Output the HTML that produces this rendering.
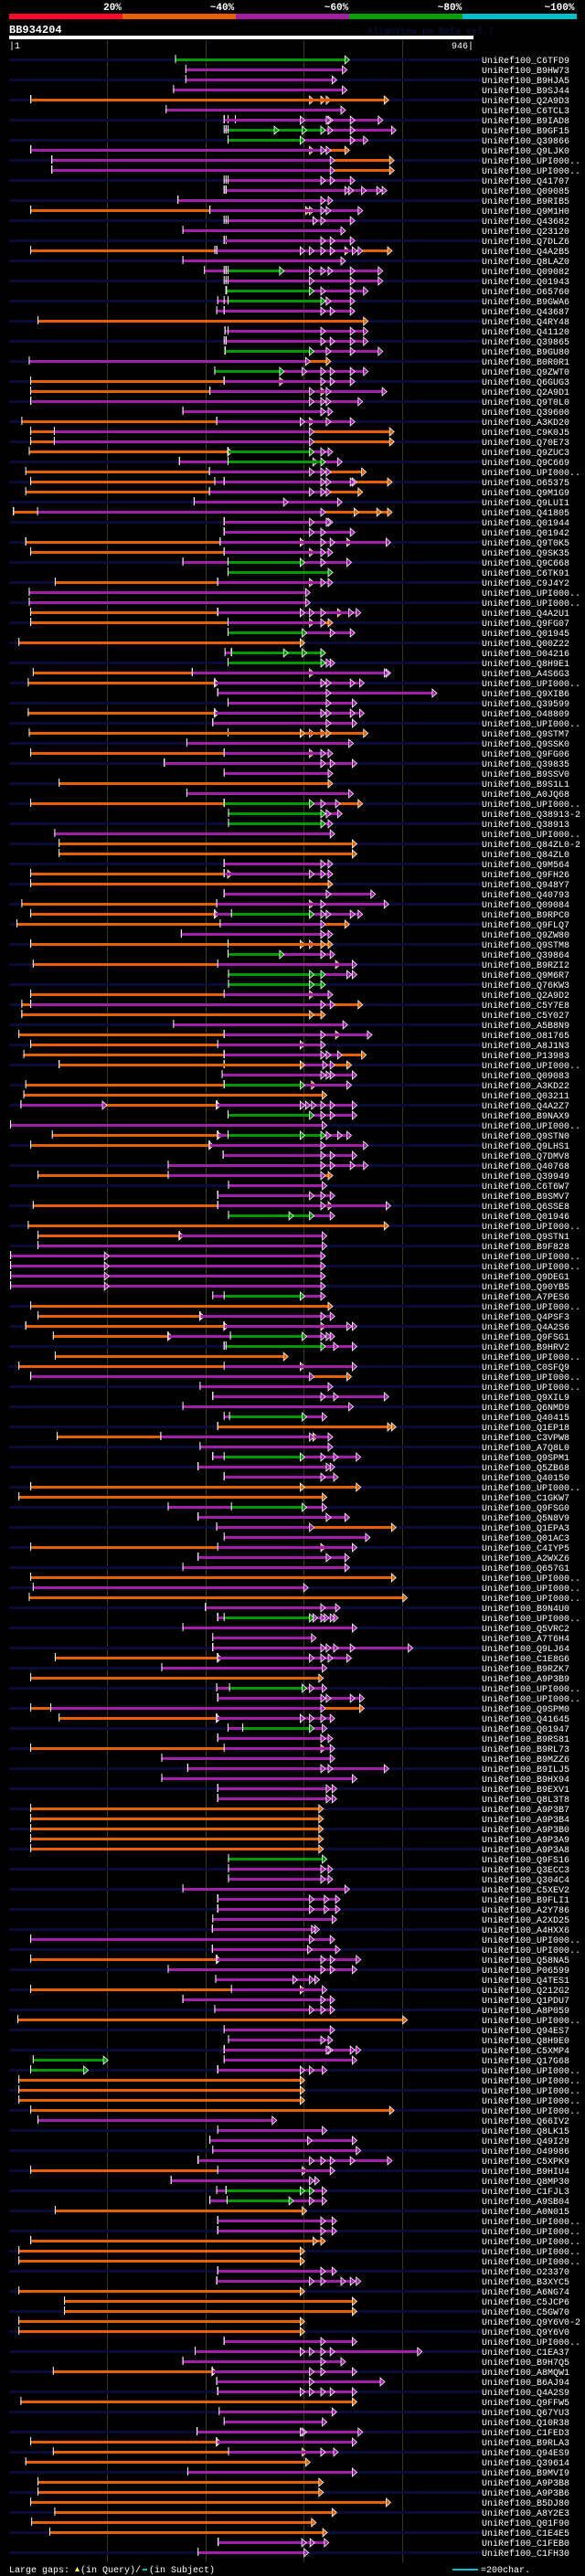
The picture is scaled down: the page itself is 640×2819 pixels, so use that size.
<!DOCTYPE html>
<html><head><meta charset="utf-8"><style>
html,body{margin:0;padding:0;background:#000;}
svg{display:block;}
text{font-family:"Liberation Mono",monospace;}
</style></head><body>
<svg id="chart" width="640" height="2819" viewBox="0 0 640 2819" xmlns="http://www.w3.org/2000/svg">
<rect x="0" y="0" width="640" height="2819" fill="#000"/>
<g>
<rect x="10" y="15" width="124" height="6" fill="#ff0a28"/>
<rect x="134" y="15" width="124" height="6" fill="#e86000"/>
<rect x="258" y="15" width="124" height="6" fill="#a020a0"/>
<rect x="382" y="15" width="124" height="6" fill="#00a000"/>
<rect x="506" y="15" width="125" height="6" fill="#00c0c8"/>
<text x="123" y="11" fill="#fff" font-size="11" font-weight="bold" text-anchor="middle">20%</text>
<text x="243" y="11" fill="#fff" font-size="11" font-weight="bold" text-anchor="middle">~40%</text>
<text x="368" y="11" fill="#fff" font-size="11" font-weight="bold" text-anchor="middle">~60%</text>
<text x="492" y="11" fill="#fff" font-size="11" font-weight="bold" text-anchor="middle">~80%</text>
<text x="612" y="11" fill="#fff" font-size="11" font-weight="bold" text-anchor="middle">~100%</text>
</g>
<text x="10" y="36" fill="#fff" font-size="12" font-weight="bold">BB934204</text>
<text x="402" y="37" fill="#14144a" font-size="10">AlignView.pm Beta rel.7</text>
<rect x="10" y="39" width="508" height="4" fill="#fff"/>
<text x="10" y="53" fill="#fff" font-size="10">|1</text>
<text x="518" y="53" fill="#fff" font-size="10" text-anchor="end">946|</text>
<g id="guides"></g>
<g id="rows"></g>
<g>
<text x="10" y="2815" fill="#fff" font-size="10">Large gaps:</text>
<path d="M82 2814 L84.5 2809 L87 2814 Z" fill="#ffff80"/>
<text x="88" y="2815" fill="#fff" font-size="10">(in Query)/</text>
<rect x="156" y="2811" width="5" height="2" fill="#00c0c8"/>
<text x="163" y="2815" fill="#fff" font-size="10">(in Subject)</text>
<rect x="495" y="2811" width="28" height="2" fill="#00c0c8"/>
<text x="526" y="2815" fill="#fff" font-size="10">=200char.</text>
</g>
</svg>
<script>
const queryLength = 946;
const guideTicks = [200, 400, 600, 800];
const colorMap = {o:"#e66000", p:"#a020a8", g:"#009a00"};
const rowLabels = ["C6TFD9","B9HW73","B9HJA5","B9SJ44","Q2A9D3","C6TCL3","B9IAD8","B9GF15","Q39866","Q9LJK0","UPI000..","UPI000..","Q41707","Q09085","B9RIB5","Q9M1H0","Q43682","Q23120","Q7DLZ6","Q4A2B5","Q8LAZ0","Q09082","Q01943","O65760","B9GWA6","Q43687","Q4RY48",
"Q41120","Q39865","B9GU80","B0R0R1","Q9ZWT0","Q6GUG3","Q2A9D1","Q9T0L0","Q39600","A3KD20","C9K0J5","Q70E73","Q9ZUC3","Q9C669","UPI000..","O65375","Q9M1G9","Q9LUI1","Q41805","Q01944","Q01942","Q9T0K5","Q9SK35","Q9C668","C6TK91","C9J4Y2","UPI000..",
"UPI000..","Q4A2U1","Q9FG07","Q01945","Q00Z22","O04216","Q8H9E1","A4S6G3","UPI000..","Q9XIB6","Q39599","O48809","UPI000..","Q9STM7","Q9SSK0","Q9FG06","Q39835","B9SSV0","B9S1L1","A0JQ68","UPI000..","Q38913-2","Q38913","UPI000..","Q84ZL0-2","Q84ZL0","Q9M564",
"Q9FH26","Q948Y7","Q40793","Q09084","B9RPC0","Q9FLQ7","Q9ZW80","Q9STM8","Q39864","B9RZI2","Q9M6R7","Q76KW3","Q2A9D2","C5Y7E8","C5Y027","A5B8N9","O81765","A8J1N3","P13983","UPI000..","Q09083","A3KD22","Q03211","Q4A2Z7","B9NAX9","UPI000..","Q9STN0","Q9LHS1",
"Q7DMV8","Q40768","Q39949","C6T6W7","B9SMV7","Q6SSE8","Q01946","UPI000..","Q9STN1","B9F828","UPI000..","UPI000..","Q9DEG1","Q90YB5","A7PES6","UPI000..","Q4PSF3","Q4A2S6","Q9FSG1","B9HRV2","UPI000..","C0SFQ9","UPI000..","UPI000..","Q9XIL9","Q6NMD9","Q40415",
"Q1EP18","C3VPW8","A7Q8L0","Q9SPM1","Q5ZB68","Q40150","UPI000..","C1GKW7","Q9FSG0","Q5N8V9","Q1EPA3","Q01AC3","C4IYP5","A2WXZ6","Q657G1","UPI000..","UPI000..","UPI000..","B9N4U0","UPI000..","Q5VRC2","A7T6H4","Q9LJ64","C1E8G6","B9RZK7","A9P3B9","UPI000..",
"UPI000..","Q9SPM0","Q41645","Q01947","B9RS81","B9RL73","B9MZZ6","B9ILJ5","B9HX94","B9EXV1","Q8L3T8","A9P3B7","A9P3B4","A9P3B0","A9P3A9","A9P3A8","Q9FS16","Q3ECC3","Q304C4","C5XEV2","B9FLI1","A2Y786","A2XD25","A4HXX6","UPI000..","UPI000..","Q58NA5","P06599",
"Q4TES1","Q212G2","Q1PDU7","A8P059","UPI000..","Q94ES7","Q8H9E0","C5XMP4","Q17G68","UPI000..","UPI000..","UPI000..","UPI000..","UPI000..","Q66IV2","Q8LK15","Q49I29","O49986","C5XPK9","B9HIU4","Q8MP30","C1FJL3","A9SB04","A0N015","UPI000..","UPI000..","UPI000..",
"UPI000..","UPI000..","O23370","B3XYC5","A6NG74","C5JCP6","C5GW70","Q9Y6V0-2","Q9Y6V0","UPI000..","C1EA37","B9H7Q5","A8MQW1","B6AJ94","Q4A2S9","Q9FFW5","Q67YU3","Q10R38","C1FED3","B9RLA3","Q94ES9","Q39614","B9MVI9","A9P3B8","A9P3B6","B5DJ80","A8Y2E3",
"Q01F90","C1E4E5","C1FEB0","C1FH30"];
const rowHsps = [
"g338-684","p359-679","p359-658","p334-679","o43-612 o43-635 o43-646 o43-764","p319-676",
"p437-752 p437-695 p460-650 p445-646 p437-593","p437-779 p441-695 p441-650 g445-635 g445-597 g445-540","p445-722 p445-695 g445-593",
"o43-684 o43-612 p43-646 p43-635","o86-775 p86-654","o86-775 p86-654","p437-695 p441-654 p445-635",
"p437-760 p437-749 p441-718 p441-692 p441-684","p343-650 p343-635","o43-604 o43-612 p408-711 p408-646 p408-635",
"p437-695 p441-635 p445-619","p353-676","p437-695 p441-654 p437-635",
"o43-771 o418-684 p418-711 p422-699 p422-654 p422-635 p422-612 p422-593","p353-676",
"p397-752 p437-695 p441-650 p441-635 p441-612 g445-551","p437-752 p441-695 p445-612","p441-722 p441-695 p441-635 g442-612",
"p424-695 p437-646 g445-635","p422-695 p437-654 p437-635","o58-722",
"p439-722 p439-695 p445-635","p437-722 p441-695 p441-654 p441-635","p439-752 p439-695 p439-646 g439-612","o40-646 p40-604",
"p418-722 p418-695 p418-654 p418-635 p418-597 g418-551","o43-551 p437-695 p437-654 p437-635","o43-635 p408-760 p408-646 p408-612",
"p43-711 p43-646 p43-635 p43-612","p353-650 p353-635","o25-612 p422-695 p422-646 p422-593","o43-775 p91-612","o43-775 p91-612",
"p40-650 p40-635 o40-445 g445-612","p346-669 p346-619 g445-635","o33-718 p407-646 p407-635 p407-612","o43-771 p418-699 p418-695 p437-646 p437-635",
"o33-711 p407-646 p407-635 p407-612","p376-669 p376-559","o8-771 o8-749 o8-703 p57-635","p437-650 p437-646 p437-612","p437-695 p437-635 p437-612",
"o33-593 o33-688 p429-768 p429-654 p429-635","o43-612 p437-650 p437-635","p353-688 p353-635 g445-593","g445-650","o93-612 p424-650 p424-635","p40-604",
"p40-604","o43-669 p424-707 p424-692 p424-635 p424-612 p424-593","o43-650 o43-612 p445-635","p445-695 p445-654 g445-597","o19-593",
"p439-635 g452-635 g452-597 g452-559","p445-654 p445-646 g445-635","o48-612 p372-768 p372-764","o38-418 p418-714 p418-695 p418-646 p418-635",
"p424-862 p424-646","p445-699 p445-646","o38-418 p418-714 p418-695 p418-646 p418-635","p414-699 p414-646","o40-722 p445-612 o445-635 o445-646 o40-593",
"p361-692","o43-612 p437-650 p437-635","p315-699 p315-654 p315-635","p437-650","o101-650","p361-692","o43-711 p437-665 p437-635 g437-612",
"p446-669 p446-646 g446-635","p446-650 g446-635","p92-654","o101-699","o101-699","p437-650 p437-635",
"o43-445 p437-650 p437-635 p437-612","o43-650","p437-737 p437-646","o25-612 p422-764 p422-635","o43-418 p418-711 p418-695 p418-646 p418-635 g452-612",
"o15-684 p429-635","p350-650 p350-635","o43-650 p445-612 o43-593 o445-635","p445-654 p445-635 g445-551","o48-665 p424-699","p446-699 p446-688 g446-635 g446-612",
"g446-635 g446-612","o43-612 p437-650","o25-711 p43-654 p43-635","o25-635 o25-612","p334-680","o19-665 p437-730 p437-635","o43-593 p424-635",
"o29-718 p437-669 p437-646 p437-635","o101-688 p437-654 p437-639 o101-593","p433-699 p433-654 p433-646 p433-635","o33-616 p437-688 g437-593","o29-638",
"o23-422 p23-190 p422-699 p422-654 p422-635 p422-616 p422-604 p422-593","p445-699 p445-654 p445-635 g445-612","p2-638",
"o87-424 p424-688 p424-669 p424-646 g445-635 g445-593","o43-407 p407-722 p407-635",
"p435-699 p435-654 p435-635","p323-722 p323-695 p323-654 p323-635","o58-650 p323-635","p446-638","p424-654 p424-635 p424-612","o48-650 p424-768 p424-635",
"p446-654 g446-612 g446-570","o38-764","o58-346 p346-638","p58-638","p2-635 p2-194","p2-635 p2-194","p2-635 p2-194","p2-635 p2-194","p414-635 g437-593","o43-650",
"o58-388 p388-654 p388-635","o33-437 o33-635 p437-699 p437-688","o89-323 p323-654 p323-646 p323-635 g450-597","p437-699 p437-661 g441-635","o93-559",
"o19-593 p437-699","o43-688 p43-612","p388-650","p414-764 p414-661 p414-635","p353-692","p437-638 g448-597",
"o424-779 o424-771","o97-619 p308-650 p308-612","p388-650","p414-707 p414-661 p414-635 g437-593","p384-654 p384-646","p437-661 p437-635","o43-707 o43-593","o19-638",
"p323-638 g452-597","p384-684 p384-646","o422-779 p422-612","p437-726","o43-635 p424-699","p384-684 p384-646","p353-684","o43-779","p48-600","o40-802",
"p399-665 p399-635","p424-661 p424-654 p424-642 p424-635 p424-619 g437-612","p353-699","p414-616","p414-813 p414-695 p414-661 p414-646 p414-635",
"o93-424 p424-688 p424-650 p424-635 p424-612","p310-638","o43-631","p422-638 p422-612 g448-597",
"p424-714 p424-695 p424-646 p424-635","o43-714 p84-635","o101-422 p422-654 p422-635 p422-612 p422-593","p445-638 g475-612","p424-650 p424-635","o43-635 p437-654",
"p310-654","p363-764 p363-650 p363-635","p310-699","p424-658 p424-646","p424-658 p424-646","o43-631","o43-631","o43-631","o43-631","o43-631","g446-638",
"p446-650 p446-635","p446-650 p446-635","p353-684","p424-665 p424-642 p424-612","p424-665 p424-642 p424-612","p414-658","p413-623 p413-616","p43-654 p43-612",
"p413-665 p413-608","o43-422 p422-707 p422-654 p422-635","p323-699 p323-654 p323-635",
"p420-623 p420-612 p420-578","o43-593 p452-638","p353-654 p353-635","p418-654 p418-635 p418-612","o17-802","p437-654","p446-650 p446-635",
"p437-707 p437-695 p437-650 p437-646","g48-192 p437-699","g43-152 p424-638 p424-612 p424-593","o19-593","o19-593","o19-593","o43-775","p58-536","p424-638",
"p408-699 p408-608","p414-707","p384-771 p384-695 p384-654 p384-635 p384-612","o43-597 p424-654","p329-623 p329-612","p422-638 g441-612 g441-593",
"p408-638 p408-612 g443-570","o93-597","p424-658 p424-635","p424-658 p424-635","o43-635 o43-619",
"o19-593","o19-593","p424-658 p424-635","p422-707 p422-695 p422-676 p422-635 p422-612","o19-593","o112-699","o112-699","o19-593","o19-593",
"p437-699 p437-635","p378-832 p378-654 p378-635 p378-612 p378-593","p353-676 p353-635","o89-413 p413-699 p413-635 p413-612","p422-756 p422-612",
"p424-699 p424-654 p424-635 p424-612 p424-593","o23-699","p427-658","p437-638","p382-711 p382-597 p382-593","o43-422 p422-699","o89-597 p446-661 p446-635",
"o33-604","p363-699","o58-631","o58-631","o43-768","o92-658",
"o45-616","o82-639","p425-642 p425-613 p425-596","p384-601"];
</script>
<script>
const NS = "http://www.w3.org/2000/svg";
const plotLeft = 10, plotRight = 518, firstRowY = 65, rowStep = 11;
function xScale(aa){ return plotLeft + aa * (plotRight - plotLeft) / queryLength; }
function yRow(i){ return firstRowY + i * rowStep; }
function mk(tag, attrs){ const e = document.createElementNS(NS, tag); for (const k in attrs) e.setAttribute(k, attrs[k]); return e; }
const guidesG = document.getElementById('guides');
guideTicks.forEach(t => {
  const l = mk('rect', {x: Math.round(xScale(t)), y: 44, width: 1, height: 2760, fill: '#3a3a12'});
  
  
  guidesG.appendChild(l);
});
const rowsG = document.getElementById('rows');
rowLabels.forEach((lab, i) => {
  const y = yRow(i);
  const g = mk('g', {});
  
  
  if (i % 2 === 0) {
    const tr = mk('rect', {x: 10, y: y - 1, width: 517, height: 3, fill: '#0b0b38'});
    
    
    g.appendChild(tr);
  }
  const specs = (rowHsps[i] || '').split(' ').filter(Boolean).map(s => {
    const m = s.match(/^([opg])(\d+)-(\d+)$/);
    return {c: m[1], s: +m[2], e: +m[3]};
  });
  specs.forEach(h => {
    const x1 = xScale(h.s), x2 = xScale(h.e), col = colorMap[h.c];
    const bar = mk('rect', {x: x1.toFixed(1), y: y - 1, width: Math.max(1, x2 - x1).toFixed(1), height: 3, fill: col});
    
    
    g.appendChild(bar);
    const tick = mk('rect', {x: x1.toFixed(1), y: y - 5, width: 1, height: 9, fill: '#fff'});
    
    
    g.appendChild(tick);
    const tri = mk('path', {d: `M${x2.toFixed(1)} ${y-4} L${(x2+5).toFixed(1)} ${y+0.5} L${x2.toFixed(1)} ${y+5} Z`, fill: col, stroke: '#fff', 'stroke-width': 0.8});
    
    
    g.appendChild(tri);
  });
  const t = mk('text', {x: 527, y: y + 4, fill: '#fff', 'font-size': 10});
  
  
  t.textContent = 'UniRef100_' + lab;
  g.appendChild(t);
  rowsG.appendChild(g);
});
</script>
</body></html>
